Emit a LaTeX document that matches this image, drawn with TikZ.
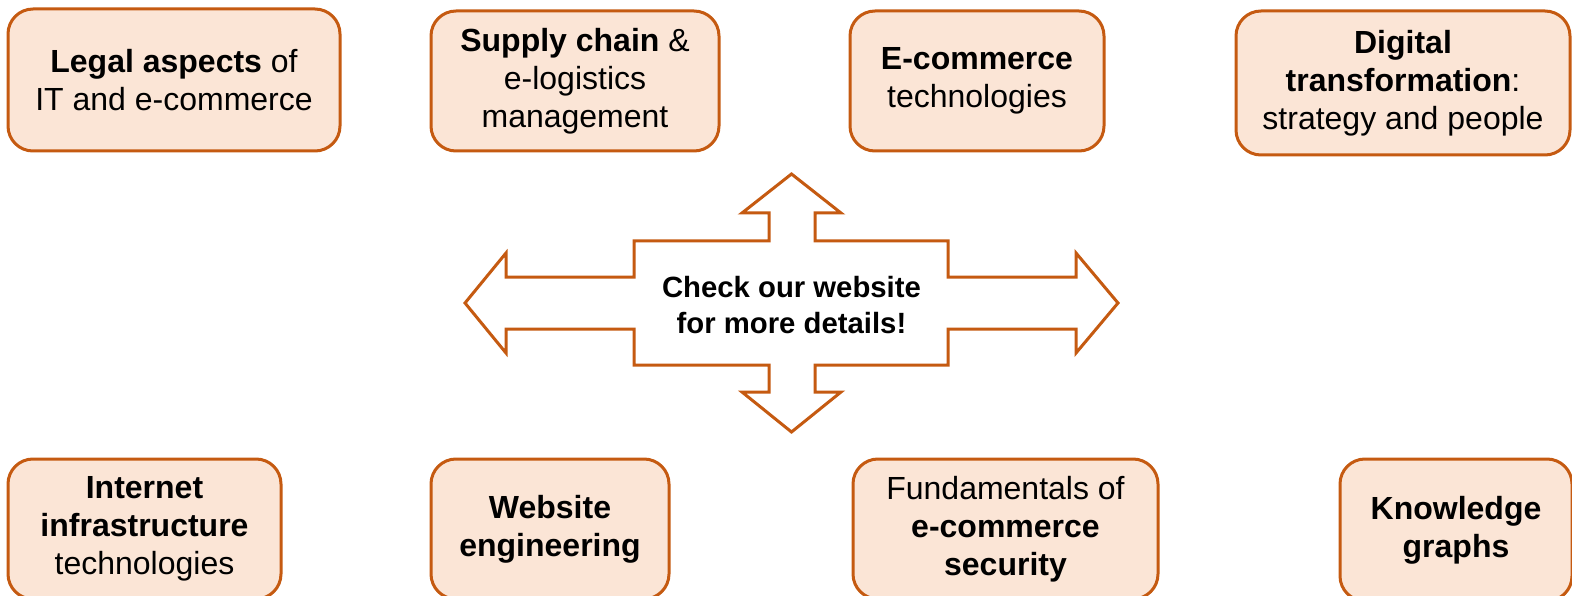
\documentclass[tikz,border=0pt]{standalone}
\usepackage{fontspec}
\setmainfont{Liberation Sans}
\usepackage{tikz}
\definecolor{rust}{HTML}{C55A11}
\definecolor{peach}{HTML}{FBE5D6}

\begin{document}
\begin{tikzpicture}
		[x=1pt, y=-1pt,
		topic/.style={draw=rust, fill=peach, line width=3pt, rounded corners=25pt, align=center,
			font=\fontsize{32}{38}\selectfont, inner sep=0pt},
		hub/.style={align=center, font=\fontsize{29.3}{36}\selectfont\bfseries}]
		\useasboundingbox (0,0) rectangle (1572,596);

		% top row
		\node[topic, minimum width=332pt, minimum height=142pt] (legal) at (174,80)
			{\textbf{Legal aspects} of\\IT and e-commerce};
		\node[topic, minimum width=288pt, minimum height=140pt] (supply) at (575,81)
			{\textbf{Supply chain} \&\\e-logistics\\management};
		\node[topic, minimum width=254pt, minimum height=140pt] (ecom) at (977,81)
			{\textbf{E-commerce}\\technologies};
		\node[topic, minimum width=334pt, minimum height=144pt] (digital) at (1403,83)
			{\textbf{Digital}\\\textbf{transformation}:\\strategy and people};

		% bottom row
		\node[topic, minimum width=273pt, minimum height=140pt] (inet) at (144.5,529)
			{\textbf{Internet}\\\textbf{infrastructure}\\technologies};
		\node[topic, minimum width=238pt, minimum height=140pt] (web) at (550,529)
			{\textbf{Website}\\\textbf{engineering}};
		\node[topic, minimum width=305pt, minimum height=140pt] (security) at (1005.5,529)
			{Fundamentals of\\\textbf{e-commerce}\\\textbf{security}};
		\node[topic, minimum width=232pt, minimum height=142pt] (graphs) at (1456,530)
			{\textbf{Knowledge}\\\textbf{graphs}};

		% four-way arrow in the middle
		\draw[draw=rust, fill=white, line width=3pt]
			(465,303) -- (506,253) -- (506,277) -- (634,277) -- (634,241) -- (769,241)
			-- (769,213) -- (742,213) -- (791.5,174) -- (841,213) -- (815,213) -- (815,241)
			-- (948,241) -- (948,277) -- (1076,277) -- (1076,253) -- (1118,303)
			-- (1076,353) -- (1076,329) -- (948,329) -- (948,365) -- (815,365)
			-- (815,392) -- (841,392) -- (791.5,432) -- (742,392) -- (769,392)
			-- (769,365) -- (634,365) -- (634,329) -- (506,329) -- (506,353) -- cycle;
		\node[hub] (check) at (791.5,305) {Check our website\\for more details!};
	\end{tikzpicture}
\end{document}
